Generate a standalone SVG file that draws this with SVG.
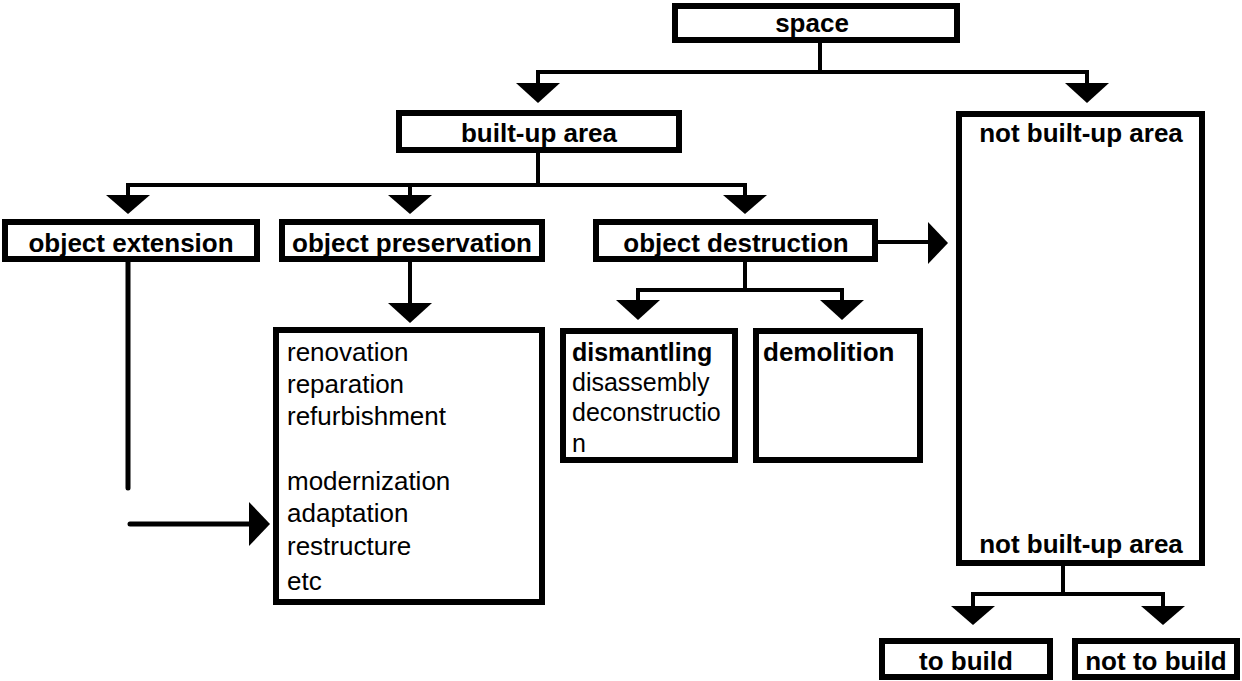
<svg xmlns="http://www.w3.org/2000/svg" width="1242" height="681" viewBox="0 0 1242 681">
<style>
.box{fill:#fff;stroke:#000;stroke-width:6}
.b{font-family:"Liberation Sans",Arial,sans-serif;font-weight:bold;font-size:26px;fill:#000}
.r{font-family:"Liberation Sans",Arial,sans-serif;font-size:26px;fill:#000}
.s{font-size:25px}
.c{text-anchor:middle}
.ln{fill:none;stroke:#000;stroke-width:4;stroke-linejoin:miter}
.rl{fill:none;stroke:#000;stroke-width:5;stroke-linecap:round}
.ah{fill:#000;stroke:none}
</style>
<rect width="1242" height="681" fill="#fff"/>
<g id="connectors">
  <path class="ln" d="M820 43V72M538 85V72H1087V85"/>
  <polygon class="ah" points="516,83 560,83 538,103"/>
  <polygon class="ah" points="1065,83 1109,83 1087,103"/>
  <path class="ln" d="M538 153V185M128 197V185H745V197M410 185V197"/>
  <polygon class="ah" points="106,195 150,195 128,214"/>
  <polygon class="ah" points="388,195 432,195 410,214"/>
  <polygon class="ah" points="723,195 767,195 745,214"/>
  <path class="rl" d="M128 262V488"/>
  <path class="rl" d="M130 524H252"/>
  <polygon class="ah" points="249,502 249,546 270,524"/>
  <path class="ln" d="M410 262V305"/>
  <polygon class="ah" points="388,303 432,303 410,323"/>
  <path class="ln" d="M745 262V290M638 302V290H842V302"/>
  <polygon class="ah" points="616,300 660,300 638,320"/>
  <polygon class="ah" points="820,300 864,300 842,320"/>
  <path class="ln" d="M878 242H930"/>
  <polygon class="ah" points="928,222 928,264 948,243"/>
  <path class="ln" d="M1063 566V594M973 608V594H1163V608"/>
  <polygon class="ah" points="951,606 995,606 973,625"/>
  <polygon class="ah" points="1141,606 1185,606 1163,625"/>
</g>
<g id="space">
  <rect class="box" x="675" y="6" width="282" height="34"/>
  <text class="b c" x="812" y="32">space</text>
</g>
<g id="built-up-area">
  <rect class="box" x="399" y="113" width="280" height="37"/>
  <text class="b c" x="539" y="142">built-up area</text>
</g>
<g id="not-built-up-area">
  <rect class="box" x="959" y="114" width="243" height="449"/>
  <text class="b c" x="1081" y="142">not built-up area</text>
  <text class="b c" x="1081" y="553">not built-up area</text>
</g>
<g id="object-extension">
  <rect class="box" x="5" y="222" width="252" height="37"/>
  <text class="b c" x="131" y="252">object extension</text>
</g>
<g id="object-preservation">
  <rect class="box" x="282" y="222" width="260" height="37"/>
  <text class="b c" x="412" y="252">object preservation</text>
</g>
<g id="object-destruction">
  <rect class="box" x="596" y="222" width="279" height="37"/>
  <text class="b c" x="736" y="252">object destruction</text>
</g>
<g id="preservation-list">
  <rect class="box" x="276" y="330" width="266" height="272"/>
  <text class="r" x="287" y="361">renovation</text>
  <text class="r" x="287" y="393">reparation</text>
  <text class="r" x="287" y="425">refurbishment</text>
  <text class="r" x="287" y="490">modernization</text>
  <text class="r" x="287" y="522">adaptation</text>
  <text class="r" x="287" y="555">restructure</text>
  <text class="r" x="287" y="590">etc</text>
</g>
<g id="dismantling">
  <rect class="box" x="563" y="331" width="172" height="129"/>
  <text class="b s" x="572" y="361">dismantling</text>
  <text class="r s" x="572" y="391">disassembly</text>
  <text class="r s" x="572" y="421">deconstructio</text>
  <text class="r s" x="572" y="452">n</text>
</g>
<g id="demolition">
  <rect class="box" x="756" y="331" width="164" height="129"/>
  <text class="b" x="763" y="361">demolition</text>
</g>
<g id="to-build">
  <rect class="box" x="882" y="641" width="168" height="36"/>
  <text class="b c" x="966" y="670">to build</text>
</g>
<g id="not-to-build">
  <rect class="box" x="1075" y="641" width="162" height="36"/>
  <text class="b c" x="1156" y="670">not to build</text>
</g>
</svg>
